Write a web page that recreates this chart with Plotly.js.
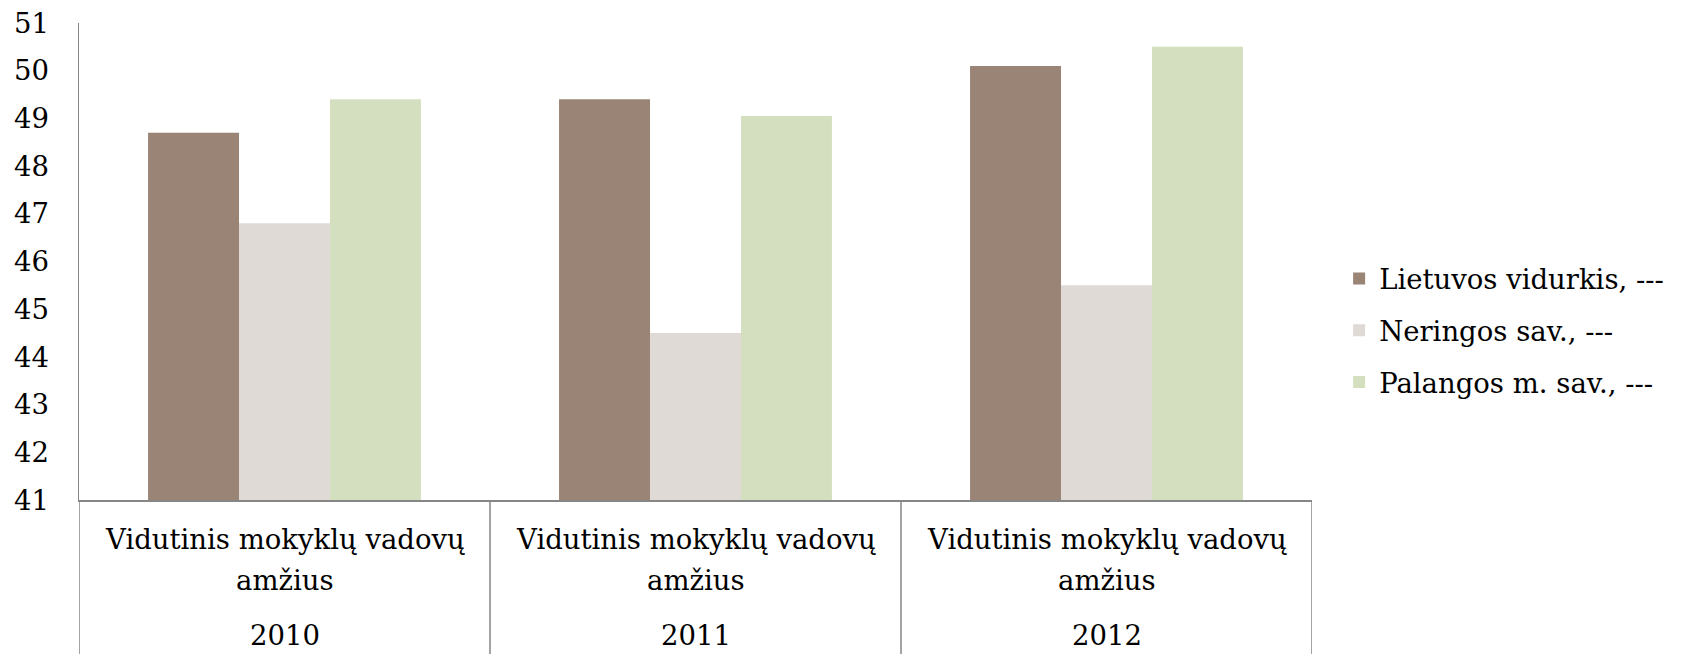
<!DOCTYPE html>
<html>
<head>
<meta charset="utf-8">
<script src="https://cdn.plot.ly/plotly-3.0.1.min.js"></script>
<style>html,body{margin:0;padding:0;background:#fff;}#chart{width:1681px;height:654px;}</style>
</head>
<body>
<div id="chart"></div>
<script>
const years = ["2010", "2011", "2012"];
const indicatorLine1 = "Vidutinis mokyklų vadovų";
const indicatorLine2 = "amžius";
const seriesNames = ["Lietuvos vidurkis, ---", "Neringos sav., ---", "Palangos m. sav., ---"];
const lietuvos = [48.7, 49.4, 50.1];
const neringos = [46.8, 44.5, 45.5];
const palangos = [49.4, 49.05, 50.5];
const colors = ["#9A8476", "#DFDAD6", "#D4DFBF"];

const FONT = "DejaVu Serif, serif";
const FS = 27.5;
const values = [lietuvos, neringos, palangos];

const data = values.map((v, i) => ({
  type: "bar",
  name: seriesNames[i],
  x: years,
  y: v,
  marker: {color: colors[i]},
  legendgroup: "g" + i,
  hoverinfo: "y+name"
}));

// category-table labels and dividers below the axis (positioned by category index)
const annotations = [];
years.forEach((yr, idx) => {
  annotations.push({x: idx, xref: "x", yref: "paper", y: -0.0818, yanchor: "middle",
    text: indicatorLine1, showarrow: false, font: {family: FONT, size: FS, color: "#000"}});
  annotations.push({x: idx, xref: "x", yref: "paper", y: -0.1677, yanchor: "middle",
    text: indicatorLine2, showarrow: false, font: {family: FONT, size: FS, color: "#000"}});
  annotations.push({x: idx, xref: "x", yref: "paper", y: -0.3208, yanchor: "bottom",
    text: yr, showarrow: false, font: {family: FONT, size: FS, color: "#000"}});
});
const shapes = [];
for (let i = 0; i <= years.length; i++) {
  shapes.push({type: "line", xref: "x", yref: "paper", x0: i - 0.5, x1: i - 0.5,
    y0: 0, y1: -0.33, line: {color: "#868686", width: 1.5}});
}

const layout = {
  width: 1681,
  height: 654,
  margin: {l: 79, r: 369, t: 23, b: 154},
  paper_bgcolor: "#fff",
  plot_bgcolor: "#fff",
  barmode: "group",
  bargap: 0.336,
  bargroupgap: 0,
  font: {family: FONT, size: FS, color: "#000"},
  showlegend: true,
  legend: {
    x: 1.022, xanchor: "left",
    y: 0.355, yanchor: "middle",
    traceorder: "grouped",
    tracegroupgap: 13,
    font: {family: FONT, size: FS, color: "#000"},
    bgcolor: "rgba(0,0,0,0)"
  },
  xaxis: {
    type: "category",
    categoryorder: "array",
    categoryarray: years,
    range: [-0.5, years.length - 0.5],
    autorange: false,
    showline: true,
    linecolor: "#868686",
    linewidth: 1.5,
    ticks: "",
    showticklabels: false,
    showgrid: false,
    zeroline: false
  },
  yaxis: {
    range: [41, 51],
    autorange: false,
    dtick: 1,
    tick0: 41,
    showline: true,
    linecolor: "#868686",
    linewidth: 1.5,
    ticks: "",
    showgrid: false,
    zeroline: false,
    ticklabelstandoff: 23,
    tickfont: {family: FONT, size: FS, color: "#000"}
  },
  annotations: annotations,
  shapes: shapes
};

Plotly.newPlot("chart", data, layout, {displayModeBar: false, staticPlot: true});
</script>
</body>
</html>
